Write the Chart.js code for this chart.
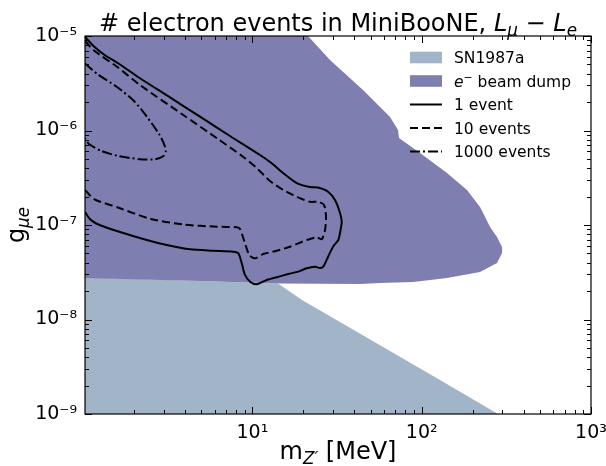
<!DOCTYPE html>
<html>
<head>
<meta charset="utf-8">
<title># electron events in MiniBooNE</title>
<script src="https://cdn.jsdelivr.net/npm/chart.js@4.4.1/dist/chart.umd.min.js"></script>
<style>
    html, body { margin: 0; padding: 0; background: #fff; }
    canvas { display: block; }
</style>
</head>
<body>
<canvas id="chart" width="606" height="466"></canvas>
<script>
// --- Data ---

const xMin = 1.026;
const xMax = 1000;
const yMin = 1e-9;
const yMax = 1e-5;
const xTickValues = [10, 100, 1000];
const yTickValues = [1e-9, 1e-8, 1e-7, 1e-6, 1e-5];

// SN1987a excluded region (upper edge, filled down to the axis)
const snMass = [1.026, 14.17, 19.63, 128.3, 282.3];
const snCoupling = [2.8e-8, 2.40e-8, 1.61e-8, 2.29e-9, 1e-9];

// e- beam dump region (upper and lower edges)
const beamDumpUpperMass = [1.026, 21.3, 28.73, 45.01, 65.0, 72.45, 73.45, 97.7, 141.1, 185.2, 221.0, 236.5, 253.2, 278.5, 298.2, 299.5];
const beamDumpUpperCoupling = [1e-5, 1e-5, 5.57e-6, 2.68e-6, 1.39e-6, 1.01e-6, 8.33e-7, 5.78e-7, 3.55e-7, 2.35e-7, 1.55e-7, 1.22e-7, 9.52e-8, 7.46e-8, 5.85e-8, 5.45e-8];
const beamDumpLowerMass = [1.026, 4.9, 14.56, 43.2, 56.7, 88.9, 141.1, 221.0, 278.5, 298.2, 299.5];
const beamDumpLowerCoupling = [2.75e-8, 2.55e-8, 2.40e-8, 2.37e-8, 2.43e-8, 2.49e-8, 2.75e-8, 3.18e-8, 3.96e-8, 5.05e-8, 5.45e-8];

// Event contours (closed paths, open at the left edge)
const oneEventMass = [1.026, 1.16, 1.328, 1.652, 2.168, 3.262, 4.902, 7.375, 11.09, 13.0, 15.17, 18.27, 21.89, 24.41, 27.97, 30.75, 32.92, 33.7, 33.38, 32.92, 32.17, 29.93, 28.0, 26.23, 25.08, 23.43, 20.93, 18.67, 16.3, 13.92, 12.15, 10.6, 9.68, 9.04, 8.65, 8.26, 7.71, 5.875, 4.28, 3.118, 2.375, 1.652, 1.26, 1.105, 1.026];
const oneEventCoupling = [9.76e-6, 7.74e-6, 6.37e-6, 4.99e-6, 3.57e-6, 2.24e-6, 1.40e-6, 8.74e-7, 5.50e-7, 4.50e-7, 3.55e-7, 2.78e-7, 2.52e-7, 2.49e-7, 2.25e-7, 1.84e-7, 1.34e-7, 1.08e-7, 9.52e-8, 8.23e-8, 6.94e-8, 5.89e-8, 4.62e-8, 3.62e-8, 3.51e-8, 3.62e-8, 3.48e-8, 3.21e-8, 3.03e-8, 2.80e-8, 2.62e-8, 2.36e-8, 2.51e-8, 2.96e-8, 3.93e-8, 5.02e-8, 5.22e-8, 5.34e-8, 5.53e-8, 6.14e-8, 6.94e-8, 8.43e-8, 9.93e-8, 1.14e-7, 1.37e-7];

const tenEventsMass = [1.026, 1.16, 1.592, 2.168, 3.945, 6.203, 8.92, 10.6, 12.71, 15.2, 18.27, 21.89, 24.41, 26.48, 27.21, 26.85, 25.67, 23.98, 20.93, 16.68, 13.92, 11.6, 10.36, 9.59, 9.04, 8.45, 8.08, 6.2, 3.945, 2.508, 1.592, 1.16, 1.026];
const tenEventsCoupling = [8.85e-6, 7.02e-6, 4.70e-6, 3.03e-6, 1.44e-6, 8.23e-7, 5.18e-7, 4.01e-7, 2.92e-7, 2.35e-7, 1.99e-7, 1.76e-7, 1.76e-7, 1.63e-7, 1.22e-7, 8.86e-8, 7.06e-8, 7.41e-8, 6.94e-8, 5.89e-8, 5.34e-8, 4.93e-8, 4.44e-8, 4.81e-8, 6.40e-8, 9.07e-8, 9.45e-8, 9.59e-8, 1.01e-7, 1.16e-7, 1.54e-7, 1.88e-7, 2.35e-7];

const thousandEventsMass = [1.026, 1.213, 1.592, 1.998, 2.395, 2.808, 3.004, 3.076, 2.985, 2.659, 2.168, 1.592, 1.27, 1.083, 1.026];
const thousandEventsCoupling = [5.12e-6, 3.96e-6, 2.87e-6, 2.05e-6, 1.38e-6, 9.18e-7, 7.20e-7, 6.07e-7, 5.37e-7, 4.96e-7, 4.96e-7, 5.41e-7, 6.11e-7, 7.20e-7, 8.23e-7];

// --- Styles ---

const snColor = '#a1b4c8';
const beamDumpColor = '#7f7eb1';
const dashed = [8, 4];
const dashDot = [10, 3, 2, 3];
const fontFamily = '"DejaVu Sans", sans-serif';

// rich text parts: [text, style] with style '', 'i', 'sub', 'isub', 'sup'
const titleParts = [['# electron events in MiniBooNE, ', ''], ['L', 'i'], ['\u03bc', 'isub'], [' \u2212 ', ''], ['L', 'i'], ['e', 'isub']];
const xTitleParts = [['m', ''], ['Z\u2032', 'isub'], [' [MeV]', '']];
const yTitleParts = [['g', ''], ['\u03bce', 'isub']];

const legendEntries = [
    { kind: 'patch', color: snColor, parts: [['SN1987a', '']] },
    { kind: 'patch', color: beamDumpColor, parts: [['e', 'i'], ['\u2212', 'sup'], [' beam dump', '']] },
    { kind: 'line', dash: [], parts: [['1 event', '']] },
    { kind: 'line', dash: dashed, parts: [['10 events', '']] },
    { kind: 'line', dash: dashDot, parts: [['1000 events', '']] }
];

const toPoints = (xs, ys) => xs.map((x, i) => ({ x: x, y: ys[i] }));

const supDigits = { '-': '\u207b', '0': '\u2070', '1': '\u00b9', '2': '\u00b2', '3': '\u00b3', '4': '\u2074', '5': '\u2075', '6': '\u2076', '7': '\u2077', '8': '\u2078', '9': '\u2079' };
function powerLabel(v) {
    const e = String(Math.round(Math.log10(v)));
    return '10' + e.split('').map(c => supDigits[c]).join('');
}

function drawRich(ctx, parts, x, y, size, align) {
    const items = parts.map(([t, s]) => {
        const small = s === 'sub' || s === 'isub' || s === 'sup';
        const italic = s === 'i' || s === 'isub';
        const px = small ? size * 0.7 : size;
        const dy = (s === 'sub' || s === 'isub') ? size * 0.2 : (s === 'sup' ? -size * 0.38 : 0);
        return { t, dy, font: (italic ? 'italic ' : '') + px + 'px ' + fontFamily };
    });
    let total = 0;
    items.forEach(it => { ctx.font = it.font; it.w = ctx.measureText(it.t).width; total += it.w; });
    let cx = align === 'center' ? x - total / 2 : x;
    items.forEach(it => { ctx.font = it.font; ctx.fillText(it.t, cx, y + it.dy); cx += it.w; });
}

// --- Plugins: matplotlib-like frame, inward ticks, texts, legend ---

const frameAndTicks = {
    id: 'frameAndTicks',
    afterDatasetsDraw(chart) {
        const { ctx, chartArea: a, scales: { x, y } } = chart;
        ctx.save();
        ctx.strokeStyle = '#000';
        ctx.lineWidth = 1;
        ctx.beginPath();
        for (let d = 0; d <= 3; d++) {
            for (let m = 1; m <= 9; m++) {
                const v = m * Math.pow(10, d);
                if (v < xMin || v > xMax) continue;
                const px = Math.round(x.getPixelForValue(v)) + 0.5;
                const len = m === 1 ? 7 : 4;
                ctx.moveTo(px, a.bottom); ctx.lineTo(px, a.bottom - len);
                ctx.moveTo(px, a.top); ctx.lineTo(px, a.top + len);
            }
        }
        for (let d = -9; d <= -5; d++) {
            for (let m = 1; m <= 9; m++) {
                const v = m * Math.pow(10, d);
                if (v < yMin * 0.999 || v > yMax * 1.001) continue;
                const py = Math.round(y.getPixelForValue(v)) + 0.5;
                const len = m === 1 ? 7 : 4;
                ctx.moveTo(a.left, py); ctx.lineTo(a.left + len, py);
                ctx.moveTo(a.right, py); ctx.lineTo(a.right - len, py);
            }
        }
        ctx.stroke();
        ctx.lineWidth = 1.2;
        ctx.strokeRect(a.left, a.top, a.right - a.left, a.bottom - a.top);
        ctx.restore();
    }
};

const textsAndLegend = {
    id: 'textsAndLegend',
    afterDraw(chart) {
        const { ctx, chartArea: a } = chart;
        const midX = (a.left + a.right) / 2;
        const midY = (a.top + a.bottom) / 2;
        ctx.save();
        ctx.fillStyle = '#000';
        ctx.textBaseline = 'alphabetic';
        ctx.textAlign = 'left';

        drawRich(ctx, titleParts, midX, 31, 24, 'center');
        drawRich(ctx, xTitleParts, midX, 459, 24, 'center');

        ctx.save();
        ctx.translate(24, midY);
        ctx.rotate(-Math.PI / 2);
        drawRich(ctx, yTitleParts, 0, 0, 24, 'center');
        ctx.restore();

        // legend
        const hx = 410, hw = 32, tx = 454;
        legendEntries.forEach((e, i) => {
            const cy = 57.5 + i * 23.5;
            if (e.kind === 'patch') {
                ctx.fillStyle = e.color;
                ctx.fillRect(hx, cy - 5.8, hw, 11.6);
            } else {
                ctx.strokeStyle = '#000';
                ctx.lineWidth = 2;
                ctx.setLineDash(e.dash);
                ctx.beginPath();
                ctx.moveTo(hx, cy);
                ctx.lineTo(hx + hw, cy);
                ctx.stroke();
                ctx.setLineDash([]);
            }
            ctx.fillStyle = '#000';
            drawRich(ctx, e.parts, tx, cy + 5.6, 15.5, 'left');
        });
        ctx.restore();
    }
};

// --- Chart ---

Chart.defaults.font.family = fontFamily;
Chart.defaults.color = '#000';

const contour = (label, xs, ys, dash) => ({
    label: label,
    data: toPoints(xs, ys),
    borderColor: '#000',
    borderWidth: 2,
    borderDash: dash,
    tension: 0.25,
    fill: false
});

new Chart(document.getElementById('chart'), {
    type: 'line',
    data: {
        datasets: [
            contour('1 event', oneEventMass, oneEventCoupling, []),
            contour('10 events', tenEventsMass, tenEventsCoupling, dashed),
            contour('1000 events', thousandEventsMass, thousandEventsCoupling, dashDot),
            {
                label: 'e\u207b beam dump',
                data: toPoints(beamDumpUpperMass, beamDumpUpperCoupling),
                borderWidth: 0,
                borderColor: 'rgba(0,0,0,0)',
                backgroundColor: beamDumpColor,
                fill: '+1'
            },
            {
                label: 'beam dump lower edge',
                data: toPoints(beamDumpLowerMass, beamDumpLowerCoupling),
                borderWidth: 0,
                borderColor: 'rgba(0,0,0,0)',
                fill: false
            },
            {
                label: 'SN1987a',
                data: toPoints(snMass, snCoupling),
                borderWidth: 0,
                borderColor: 'rgba(0,0,0,0)',
                backgroundColor: snColor,
                fill: 'start'
            }
        ]
    },
    options: {
        responsive: false,
        animation: false,
        devicePixelRatio: 1,
        events: [],
        layout: { padding: { top: 36, right: 15, bottom: 0, left: 0 } },
        elements: { point: { radius: 0 } },
        plugins: {
            legend: { display: false },
            title: { display: false },
            tooltip: { enabled: false }
        },
        scales: {
            x: {
                type: 'logarithmic',
                min: xMin,
                max: xMax,
                grid: { display: false, drawTicks: false },
                border: { display: false },
                ticks: {
                    autoSkip: false,
                    maxRotation: 0,
                    padding: 8,
                    font: { size: 19 },
                    callback: v => powerLabel(v)
                },
                afterBuildTicks: s => { s.ticks = xTickValues.map(v => ({ value: v })); },
                afterFit: s => { s.height = 52; s.paddingLeft = 0; s.paddingRight = 0; }
            },
            y: {
                type: 'logarithmic',
                min: yMin,
                max: yMax,
                grid: { display: false, drawTicks: false },
                border: { display: false },
                ticks: {
                    autoSkip: false,
                    padding: 8,
                    font: { size: 19 },
                    callback: v => powerLabel(v)
                },
                afterBuildTicks: s => { s.ticks = yTickValues.map(v => ({ value: v })); },
                afterFit: s => { s.width = 85; s.paddingTop = 0; s.paddingBottom = 0; }
            }
        }
    },
    plugins: [frameAndTicks, textsAndLegend]
});
</script>
</body>
</html>
